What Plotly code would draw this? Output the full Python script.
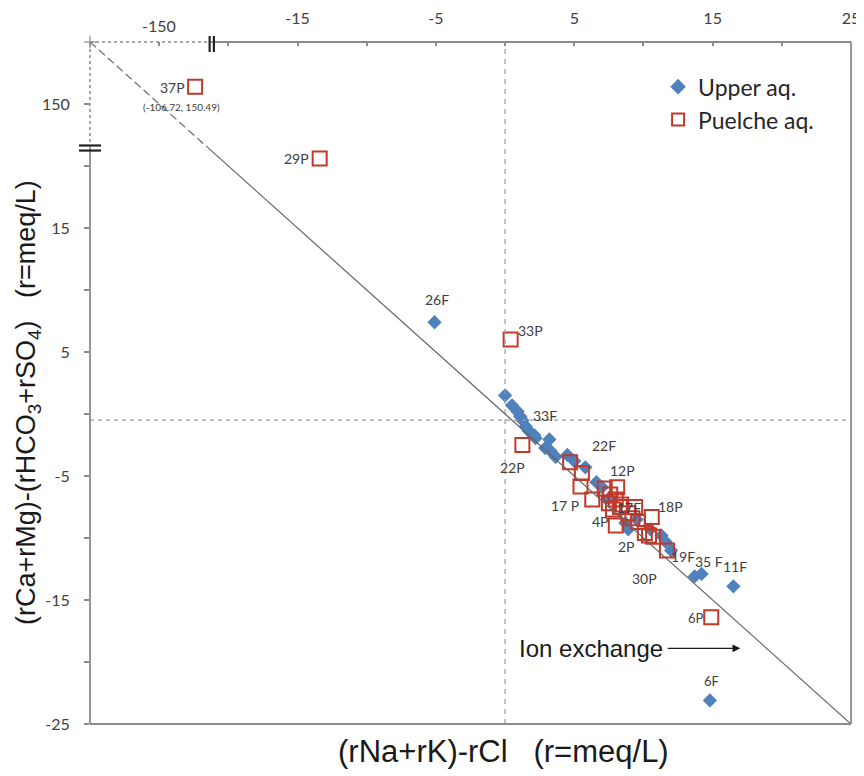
import plotly.graph_objects as go

# ---------------- data ----------------
upper_x = [-5.1, 0.0, 0.5, 0.9, 1.1, 1.25, 1.5, 1.7, 2.1, 2.2, 3.2, 2.9, 3.3, 3.65, 4.5, 5.0,
           5.8, 6.6, 7.0, 7.5, 8.7, 8.9, 9.5, 10.5, 11.3, 11.6, 12.0, 13.7, 14.2, 16.5, 14.8]
upper_y = [7.4, 1.5, 0.7, 0.2, -0.2, -0.5, -1.0, -1.35, -1.7, -1.95, -2.05, -2.75, -3.0, -3.45, -3.3, -3.8,
           -4.3, -5.5, -5.9, -6.8, -8.8, -9.3, -8.5, -9.3, -9.8, -10.3, -11.0, -13.1, -12.9, -13.9, -23.1]

puelche_x = [-106.72, -13.4, 0.4, 1.25, 4.7, 5.55, 5.45, 6.3, 7.2, 8.1, 7.6, 7.5, 7.8, 8.3, 8.9, 9.4,
             10.6, 8.0, 8.0, 8.4, 9.2, 9.6, 10.1, 10.4, 10.7, 11.7, 14.9]
puelche_y = [150.49, 20.6, 6.0, -2.5, -3.9, -4.75, -5.85, -6.9, -6.0, -5.9, -6.5, -7.2, -7.7, -7.5, -8.0, -7.5,
             -8.3, -9.0, -6.9, -7.3, -8.4, -8.7, -9.6, -9.8, -9.9, -11.0, -16.4]

x_tick_vals = [-25, -20, -15, -10, -5, 0, 5, 10, 15, 20, 25]
x_tick_text = ["", "", "-15", "", "-5", "", "5", "", "15", "", "25"]
y_tick_vals = [-25, -20, -15, -10, -5, 0, 5, 10, 15, 20, 25]
y_tick_text = ["-25", "", "-15", "", "-5", "", "5", "", "15", "", "150"]

point_labels = ["37P", "29P", "26F", "33P", "33F", "22P", "22F", "12P", "17 P", "4P", "17F",
                "18P", "2P", "19F", "35 F", "11F", "30P", "6P", "6F"]
label_x = [-24.07, -15.04, -4.92, 1.87, 2.88, 0.50, 7.15, 8.52, 4.33, 6.93, 8.95,
           11.92, 8.81, 12.86, 14.73, 16.61, 10.04, 13.80, 14.95]
label_y = [26.37, 20.64, 9.27, 6.77, -0.16, -4.28, -2.58, -4.52, -7.34, -8.63, -7.50,
           -7.42, -10.65, -11.53, -11.86, -12.26, -13.23, -16.45, -21.54]

# ---------------- broken-axis transform ----------------
XR = [-30, 25]
YR = [-25, 30]
X_BREAK = -21.2     # display position of the x break
Y_BREAK = 21.45     # display position of the y break
X_BREAK_SCALE = 0.06
Y_BREAK_SCALE = 2.85


def brk_x(v):
    return v if v > XR[0] else -25 + (v + 150) * X_BREAK_SCALE


def brk_y(v):
    return v if v < YR[1] else 25 + (v - 150) * Y_BREAK_SCALE


def px(v):
    return (v - XR[0]) / (XR[1] - XR[0])


def py(v):
    return (v - YR[0]) / (YR[1] - YR[0])


BLUE = "#4F81BD"
RED = "#C0392B"
AXC = "#8a8a8a"
TXT = "#404040"

fig = go.Figure()
fig.add_trace(go.Scatter(
    x=[brk_x(v) for v in upper_x], y=[brk_y(v) for v in upper_y],
    mode="markers", name="Upper aq.",
    marker=dict(symbol="diamond", size=11, color=BLUE, line=dict(width=0)),
))
fig.add_trace(go.Scatter(
    x=[brk_x(v) for v in puelche_x], y=[brk_y(v) for v in puelche_y],
    mode="markers", name="Puelche aq.",
    marker=dict(symbol="square-open", size=14, color=RED, line=dict(width=2, color=RED)),
))

shapes = []
# reference dashed lines through origin
shapes.append(dict(type="line", xref="x", yref="y", x0=0, x1=0, y0=YR[0], y1=YR[1],
                   line=dict(color="#9a9a9a", width=1.2, dash="5px,5px")))
shapes.append(dict(type="line", xref="x", yref="y", x0=XR[0], x1=XR[1], y0=-0.5, y1=-0.5,
                   line=dict(color="#9a9a9a", width=1.2, dash="4px,4px")))
# 1:1 line
shapes.append(dict(type="line", xref="x", yref="y", x0=XR[0], y0=YR[1], x1=-21.5, y1=21.5,
                   line=dict(color="#666666", width=1.2, dash="8px,4px")))
shapes.append(dict(type="line", xref="x", yref="y", x0=-21.5, y0=21.5, x1=XR[1], y1=YR[0],
                   line=dict(color="#666666", width=1.2)))
# frame
xb = px(X_BREAK)
yb = py(Y_BREAK)
shapes += [
    dict(type="line", xref="paper", yref="paper", x0=xb, x1=1, y0=1, y1=1, line=dict(color=AXC, width=1.8)),
    dict(type="line", xref="paper", yref="paper", x0=0, x1=xb, y0=1, y1=1, line=dict(color=AXC, width=1.5, dash="3px,3px")),
    dict(type="line", xref="paper", yref="paper", x0=0, x1=0, y0=0, y1=yb, line=dict(color=AXC, width=1.8)),
    dict(type="line", xref="paper", yref="paper", x0=0, x1=0, y0=yb, y1=1, line=dict(color=AXC, width=1.5, dash="3px,3px")),
    dict(type="line", xref="paper", yref="paper", x0=1, x1=1, y0=0, y1=1, line=dict(color=AXC, width=1.8)),
    dict(type="line", xref="paper", yref="paper", x0=0, x1=1, y0=0, y1=0, line=dict(color=AXC, width=1.8)),
    # corner cross
    dict(type="line", xref="paper", yref="paper", x0=-0.008, x1=0.008, y0=1, y1=1, line=dict(color=AXC, width=1.2)),
    dict(type="line", xref="paper", yref="paper", x0=0, x1=0, y0=0.991, y1=1.009, line=dict(color=AXC, width=1.2)),
]
# break marks
for dxp in (-0.0028, 0.0028):
    shapes.append(dict(type="line", xref="paper", yref="paper", x0=xb + dxp, x1=xb + dxp,
                       y0=1 - 0.0147, y1=1 + 0.0088, line=dict(color="#222222", width=2.2)))
for dyp in (-0.0037, 0.0037):
    shapes.append(dict(type="line", xref="paper", yref="paper", x0=-0.0145, x1=0.0145,
                       y0=yb + dyp, y1=yb + dyp, line=dict(color="#222222", width=2.2)))

annotations = []
for t, lx, ly in zip(point_labels, label_x, label_y):
    fs = 13 if t in ("6P", "6F") else 14
    annotations.append(dict(x=lx, y=ly, xref="x", yref="y", text=t, showarrow=False,
                            xanchor="center", yanchor="middle",
                            font=dict(family="Lato", size=fs, color=TXT)))
annotations.append(dict(x=-23.42, y=24.76, xref="x", yref="y", text="(-106.72, 150.49)", showarrow=False,
                        xanchor="center", yanchor="middle",
                        font=dict(family="Lato", size=10, color=TXT)))
# broken x tick label
annotations.append(dict(x=px(-25), y=1.0235, xref="paper", yref="paper", text="-150", showarrow=False,
                        xanchor="center", yanchor="middle",
                        font=dict(family="Lato", size=16, color=TXT)))
# Ion exchange
annotations.append(dict(x=6.2, y=-18.9, xref="x", yref="y", text="Ion exchange", showarrow=False,
                        xanchor="center", yanchor="middle",
                        font=dict(family="Liberation Sans", size=24, color="#1a1a1a")))
annotations.append(dict(x=17.0, y=-18.9, ax=11.65, ay=-18.9, xref="x", yref="y", axref="x", ayref="y",
                        text="", showarrow=True, arrowhead=2, arrowsize=1.2, arrowwidth=1.3,
                        arrowcolor="#1a1a1a"))
# axis titles
NB = "\u00a0"
annotations.append(dict(x=0.544, y=-0.041, xref="paper", yref="paper",
                        text="(rNa+rK)-rCl" + NB * 3 + "(r=meq/L)", showarrow=False,
                        font=dict(family="Liberation Sans", size=31, color="#1a1a1a"),
                        xanchor="center", yanchor="middle"))
annotations.append(dict(x=-0.0815, y=0.472, xref="paper", yref="paper", textangle=-90,
                        text="(rCa+rMg)-(rHCO<sub>3</sub>+rSO<sub>4</sub>)" + NB * 3 + "(r=meq/L)",
                        showarrow=False, font=dict(family="Liberation Sans", size=27, color="#1a1a1a"),
                        xanchor="center", yanchor="middle"))

fig.update_layout(
    width=864, height=776,
    margin=dict(l=82, r=21, t=34, b=60, autoexpand=False),
    paper_bgcolor="white", plot_bgcolor="white",
    shapes=shapes, annotations=annotations,
    showlegend=True,
    legend=dict(x=0.7465, y=0.966, xanchor="left", yanchor="top",
                font=dict(family="Lato", size=23, color="#262626"),
                bgcolor="rgba(0,0,0,0)", tracegroupgap=0, itemsizing="constant"),
    xaxis=dict(range=XR, side="top", showgrid=False, zeroline=False, showline=False,
               automargin=False,
               tickmode="array", tickvals=x_tick_vals, ticktext=x_tick_text,
               ticks="inside", ticklen=4, tickwidth=1.5, tickcolor=AXC,
               tickfont=dict(family="Lato", size=16, color=TXT), ticklabelstandoff=14),
    yaxis=dict(range=YR, showgrid=False, zeroline=False, showline=False,
               automargin=False,
               tickmode="array", tickvals=y_tick_vals, ticktext=y_tick_text,
               ticks="outside", ticklen=5, tickwidth=1.5, tickcolor=AXC,
               tickfont=dict(family="Lato", size=16, color=TXT), ticklabelstandoff=11),
)

fig.write_html("out.html")
